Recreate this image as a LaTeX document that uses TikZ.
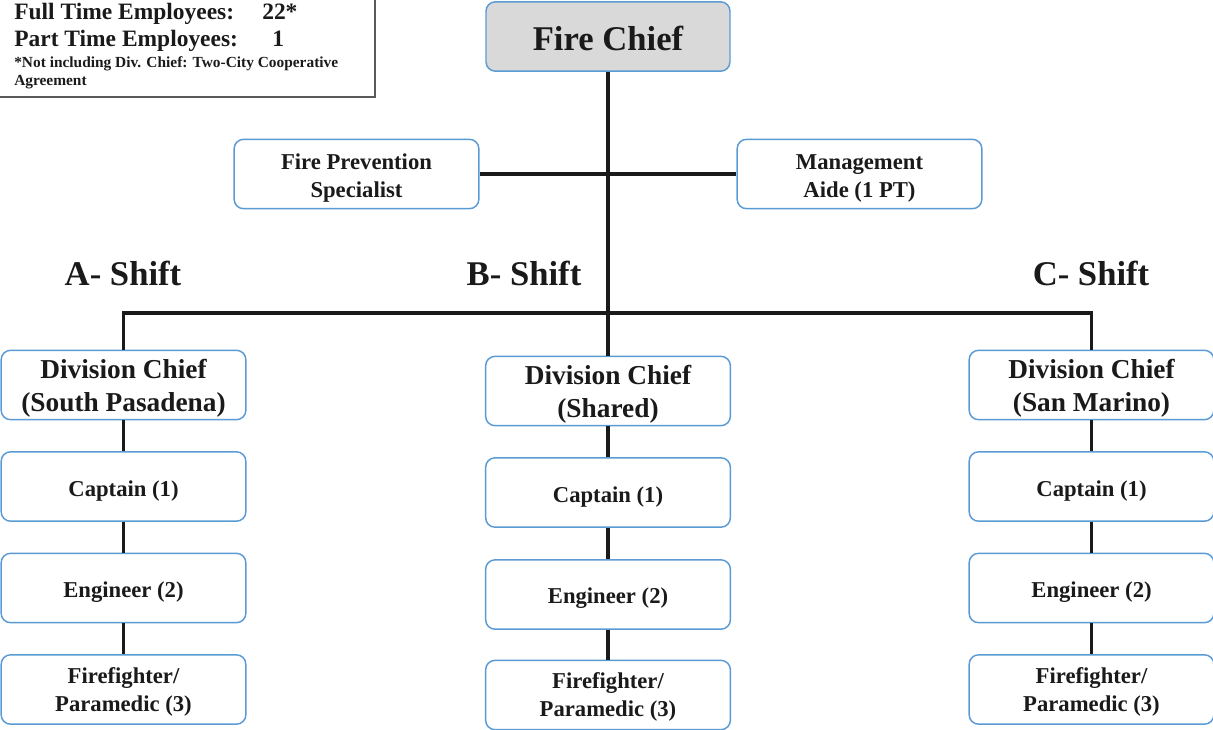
\documentclass[tikz,border=0pt]{standalone}
\usepackage{fontspec}
\setmainfont{Liberation Serif}
\definecolor{boxblue}{HTML}{5B9BD5}
\definecolor{chiefgray}{HTML}{D9D9D9}
\definecolor{inkc}{HTML}{1A1A1A}
\definecolor{framegray}{HTML}{5A5A5A}
\tikzset{
  orgbox/.style={draw=boxblue, fill=white, line width=1.1pt, rounded corners=7pt,
    minimum width=183.5pt, minimum height=52pt, inner sep=0pt},
  boxtext/.style={align=center, inner sep=0pt, text=inkc,
    font=\bfseries\fontsize{17}{21}\selectfont},
  divtext/.style={boxtext, font=\bfseries\fontsize{20.5}{24.5}\selectfont},
  link/.style={draw=inkc, line width=2.3pt},
  shiftlabel/.style={anchor=base, text=inkc, font=\bfseries\fontsize{26}{30}\selectfont},
  infotext/.style={anchor=base west, inner sep=0pt, text=inkc},
}
\begin{document}
\begin{tikzpicture}[x=0.75pt, y=-0.75pt]
\useasboundingbox (0,0) rectangle (1213,729);
% info box
\draw[draw=framegray, line width=1.4pt, fill=white] (-2,-2) rectangle (375,97);
\node[infotext, font=\bfseries\fontsize{17.6}{21}\selectfont] (ft) at (14,19) {Full Time Employees:};
\node[infotext, font=\bfseries\fontsize{17.6}{21}\selectfont] (ftn) at (262,19) {22*};
\node[infotext, font=\bfseries\fontsize{17.6}{21}\selectfont] (pt) at (14,46.5) {Part Time Employees:};
\node[infotext, font=\bfseries\fontsize{17.6}{21}\selectfont] (ptn) at (272,46.5) {1};
\node[infotext, font=\bfseries\fontsize{11.55}{14}\selectfont] (note1) at (14,67) {*Not including Div. Chief: Two-City Cooperative};
\node[infotext, font=\bfseries\fontsize{11.55}{14}\selectfont] (note2) at (14,85) {Agreement};
% top
\node[orgbox, fill=chiefgray, minimum width=183pt,
  label={[boxtext, font=\bfseries\fontsize{26}{30}\selectfont, yshift=-1.5pt]center:Fire Chief}] (chief) at (608,36.5) {};
\node[orgbox, label={[boxtext, yshift=-3pt]center:Fire Prevention\\Specialist}] (fps) at (356.5,174) {};
\node[orgbox, label={[boxtext, yshift=-3pt]center:Management\\Aide (1 PT)}] (ma) at (859.5,174) {};
% shift labels
\node[shiftlabel] (sa) at (123,285) {A- Shift};
\node[shiftlabel] (sb) at (524,285) {B- Shift};
\node[shiftlabel] (sc) at (1091,285) {C- Shift};
% columns
\node[orgbox, label={[divtext, yshift=-2.3pt]center:Division Chief\\(South Pasadena)}] (divA) at (123.5,385) {};
\node[orgbox, label={[boxtext, yshift=-3.5pt]center:Captain (1)}] (capA) at (123.5,486.5) {};
\node[orgbox, label={[boxtext, yshift=-3pt]center:Engineer (2)}] (engA) at (123.5,588) {};
\node[orgbox, label={[boxtext, yshift=-1.8pt]center:Firefighter/\\Paramedic (3)}] (ffA) at (123.5,689.5) {};
\node[orgbox, label={[divtext, yshift=-2.3pt]center:Division Chief\\(Shared)}] (divB) at (608,391) {};
\node[orgbox, label={[boxtext, yshift=-3.5pt]center:Captain (1)}] (capB) at (608,492.5) {};
\node[orgbox, label={[boxtext, yshift=-3pt]center:Engineer (2)}] (engB) at (608,594.5) {};
\node[orgbox, label={[boxtext, yshift=-1.8pt]center:Firefighter/\\Paramedic (3)}] (ffB) at (608,695) {};
\node[orgbox, label={[divtext, yshift=-2.3pt]center:Division Chief\\(San Marino)}] (divC) at (1091.5,385) {};
\node[orgbox, label={[boxtext, yshift=-3.5pt]center:Captain (1)}] (capC) at (1091.5,486.5) {};
\node[orgbox, label={[boxtext, yshift=-3pt]center:Engineer (2)}] (engC) at (1091.5,588) {};
\node[orgbox, label={[boxtext, yshift=-1.8pt]center:Firefighter/\\Paramedic (3)}] (ffC) at (1091.5,689.5) {};
\coordinate (bus) at (608,313);
% connectors
\draw[link] (chief.south) -- (divB.north);
\draw[link] (fps.east) -- (ma.west);
\draw[link] (divA.north) -- (divA.north |- bus) -- (divC.north |- bus) -- (divC.north);
\foreach \c in {A,B,C}{
  \draw[link] (div\c.south) -- (cap\c.north);
  \draw[link] (cap\c.south) -- (eng\c.north);
  \draw[link] (eng\c.south) -- (ff\c.north);
}
\end{tikzpicture}
\end{document}
